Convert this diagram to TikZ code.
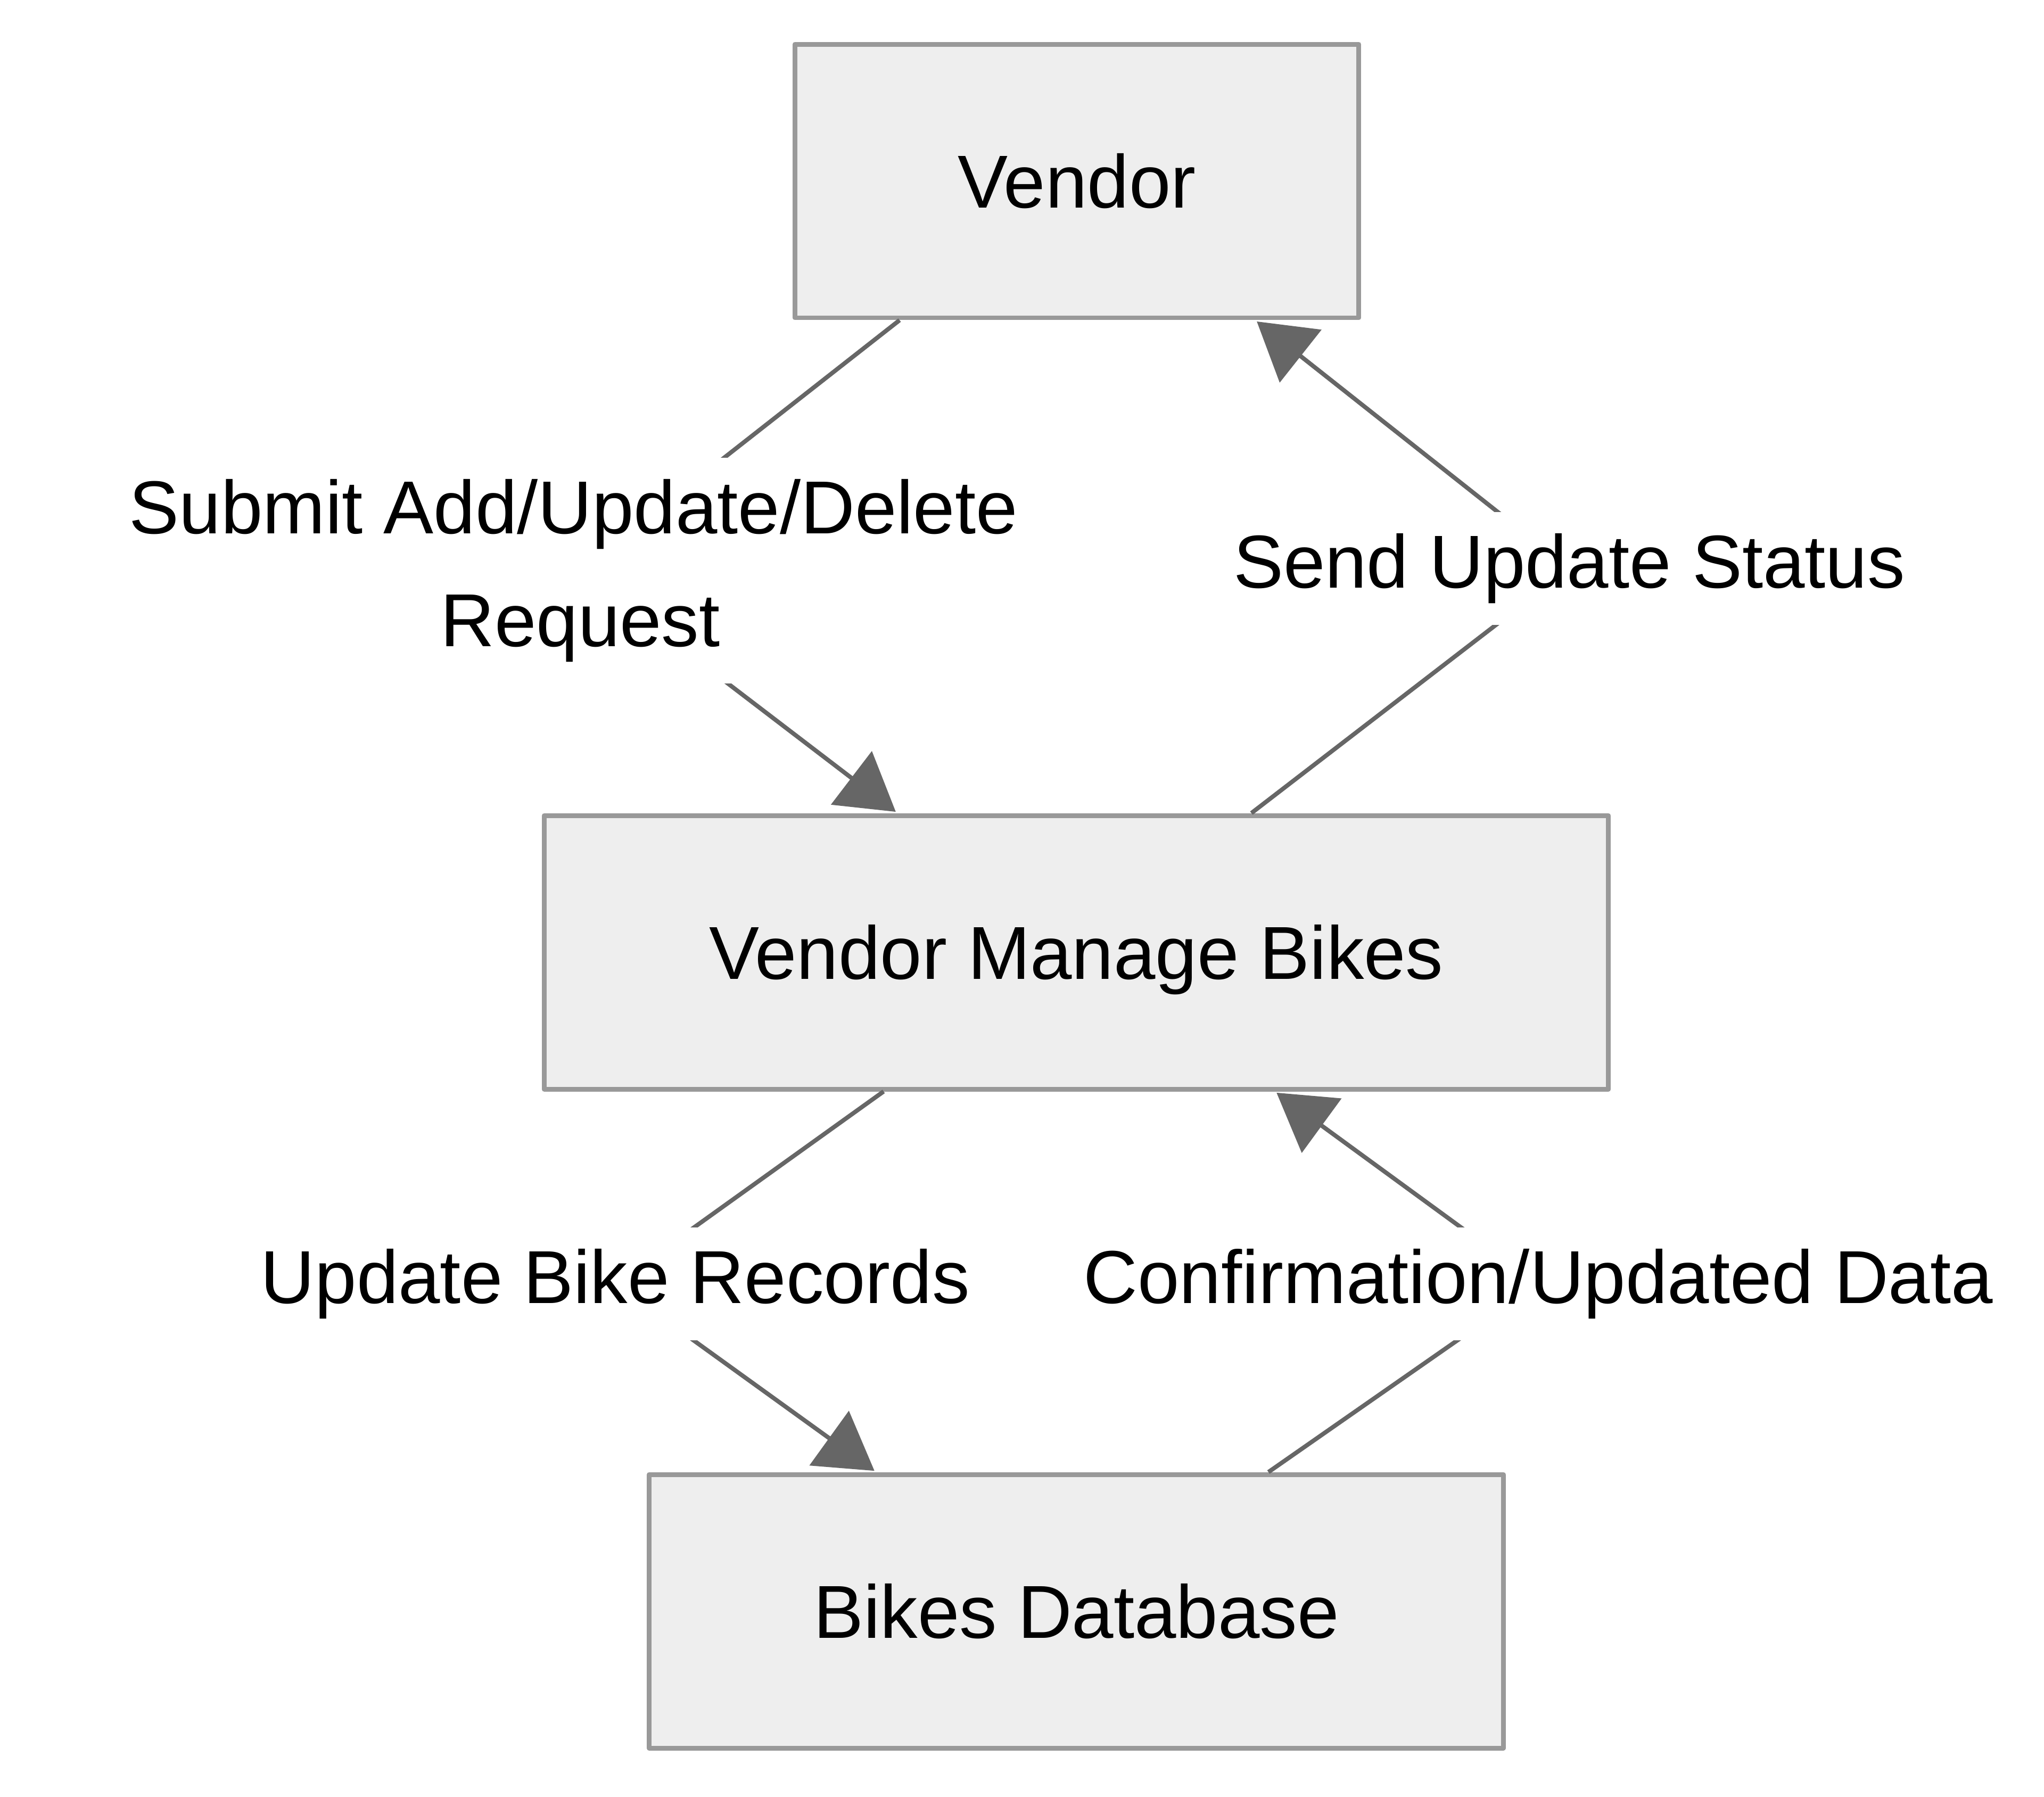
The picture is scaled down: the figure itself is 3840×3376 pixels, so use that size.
\documentclass[tikz,border=0pt]{standalone}
\usepackage{fontspec}
\setmainfont{Liberation Sans}
\usetikzlibrary{arrows.meta}
\definecolor{boxfill}{HTML}{EEEEEE}
\definecolor{boxline}{HTML}{999999}
\definecolor{edgeline}{HTML}{666666}
\tikzset{
	box/.style={draw=boxline,fill=boxfill,line width=0.9pt,minimum height=51.4pt,inner sep=0pt,text height=10.1pt,text depth=0pt},
	flow/.style={draw=edgeline,line width=0.8pt,->,shorten >=0.4pt},
	lbl/.style={fill=white,inner xsep=2pt,inner ysep=4pt,align=center}
}
\begin{document}
\begin{tikzpicture}[x=0.1pt,y=-0.1pt,>={Triangle[length=10.5pt,width=12.5pt]},line join=round,font=\fontsize{14.1}{21.2}\selectfont]
				\useasboundingbox (0,0) rectangle (3840,3376);
				\path
				(1090,1072) coordinate (L1)
				(2948,1068) coordinate (L2)
				(1156,2412) coordinate (L3)
				(2890,2412) coordinate (L4)
				;
				\node[box,minimum width=106pt] (V) at (2023,340) {Vendor};
				\node[box,minimum width=200pt] (M) at (2022,1789) {Vendor Manage Bikes};
				\node[box,minimum width=160.5pt] (D) at (2022,3027) {Bikes Database};
				\draw[flow] ([xshift=-33.3pt]V.south) -- (L1) node[lbl] {Submit Add/Update/Delete\hspace*{2.5pt}\\Request} -- ([xshift=-33.6pt]M.north);
				\draw[flow] ([xshift=32.9pt]M.north) -- (L2) node[lbl] {Send Update Status} -- ([xshift=33.5pt]V.south);
				\draw[flow] ([xshift=-36.2pt]M.south) -- (L3) node[lbl] {Update Bike Records} -- ([xshift=-37.6pt]D.north);
				\draw[flow] ([xshift=36.1pt]D.north) -- (L4) node[lbl] {Confirmation/Updated Data} -- ([xshift=37.3pt]M.south);
			\end{tikzpicture}
\end{document}
